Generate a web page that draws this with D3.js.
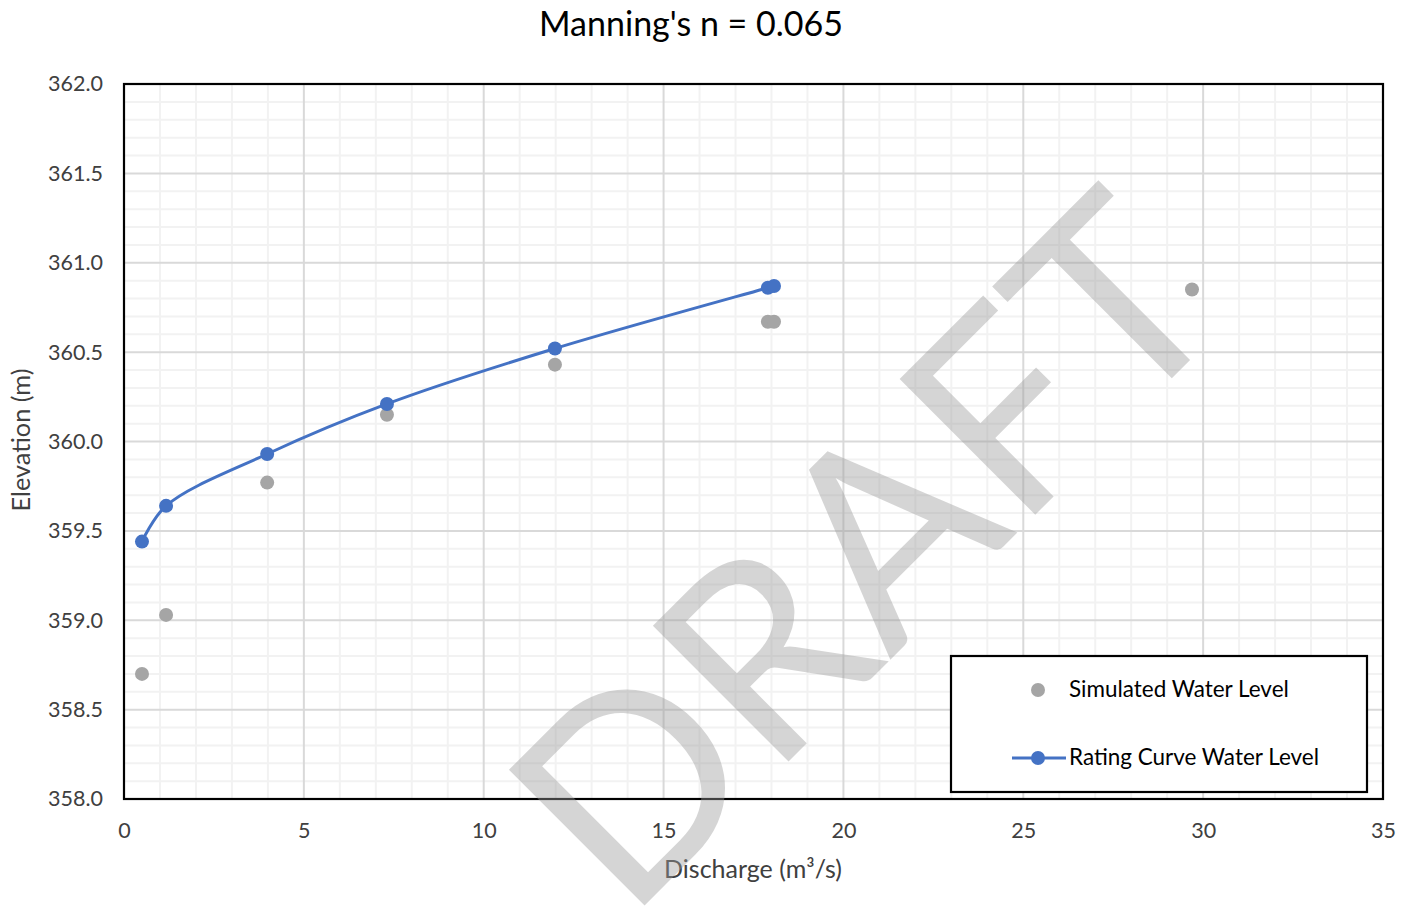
<!DOCTYPE html>
<html>
<head>
<meta charset="utf-8">
<script src="https://cdn.jsdelivr.net/npm/d3@7"></script>
<style>
  html, body { margin: 0; padding: 0; background: #fff; }
  svg { display: block; font-family: Lato, "Open Sans", sans-serif; }
</style>
</head>
<body>
<svg id="chart" width="1401" height="908"></svg>
<script>
// Rating curve points (discharge in m³/s, water level in m)
const ratingDischarge = [0.50, 1.17, 3.98, 7.31, 11.98, 17.90, 18.07];
const ratingLevel     = [359.44, 359.64, 359.93, 360.21, 360.52, 360.86, 360.87];

// Simulated water levels from the hydraulic model
const simDischarge = [0.50, 1.17, 3.98, 7.31, 11.98, 17.90, 18.07, 29.69];
const simLevel     = [358.70, 359.03, 359.77, 360.15, 360.43, 360.67, 360.67, 360.85];

// Axis ticks
const xTicks = [0, 5, 10, 15, 20, 25, 30, 35];
const yTicks = [358.0, 358.5, 359.0, 359.5, 360.0, 360.5, 361.0, 361.5, 362.0];

const titleText = "Manning's n = 0.065";
const xTitle = "Discharge (m³/s)";
const yTitle = "Elevation (m)";
const legendLabels = ["Simulated Water Level", "Rating Curve Water Level"];
const watermark = "DRAFT";

const svg = d3.select("#chart");
const plot = { left: 124, top: 84, right: 1383, bottom: 799 };

const x = d3.scaleLinear().domain([0, 35]).range([plot.left, plot.right]);
const y = d3.scaleLinear().domain([358, 362]).range([plot.bottom, plot.top]);

const blue = "#4472C4";
const grey = "#A5A5A5";

// size a text element so its rendered width equals the given width
function fitWidth(sel, width) {
  const base = 100;
  sel.attr("font-size", base);
  const w = sel.node().getComputedTextLength();
  sel.attr("font-size", base * width / w);
  return base * width / w;
}

// Gridlines: minor every 1 m³/s and 0.1 m, major every 5 m³/s and 0.5 m
const minorX = d3.range(1, 35, 1).filter(v => v % 5 !== 0);
const minorY = d3.range(1, 40, 1).filter(v => v % 5 !== 0).map(v => 358 + v / 10);
const majorX = d3.range(5, 35, 5);
const majorY = d3.range(1, 8).map(v => 358 + v * 0.5);

const grid = svg.append("g");
grid.selectAll(".mx").data(minorX).join("line")
  .attr("x1", d => x(d)).attr("x2", d => x(d))
  .attr("y1", plot.top).attr("y2", plot.bottom)
  .attr("stroke", "#f2f2f2").attr("stroke-width", 2);
grid.selectAll(".my").data(minorY).join("line")
  .attr("x1", plot.left).attr("x2", plot.right)
  .attr("y1", d => y(d)).attr("y2", d => y(d))
  .attr("stroke", "#f2f2f2").attr("stroke-width", 2);
grid.selectAll(".Mx").data(majorX).join("line")
  .attr("x1", d => x(d)).attr("x2", d => x(d))
  .attr("y1", plot.top).attr("y2", plot.bottom)
  .attr("stroke", "#d9d9d9").attr("stroke-width", 2);
grid.selectAll(".My").data(majorY).join("line")
  .attr("x1", plot.left).attr("x2", plot.right)
  .attr("y1", d => y(d)).attr("y2", d => y(d))
  .attr("stroke", "#d9d9d9").attr("stroke-width", 2);

// Plot border
svg.append("rect")
  .attr("x", plot.left).attr("y", plot.top)
  .attr("width", plot.right - plot.left).attr("height", plot.bottom - plot.top)
  .attr("fill", "none").attr("stroke", "#000").attr("stroke-width", 2.2);

// Axes (labels only; the border draws the axis lines)
const xAxis = svg.append("g")
  .attr("transform", `translate(0,${plot.bottom})`)
  .call(d3.axisBottom(x).tickValues(xTicks).tickFormat(d3.format("d")).tickSize(0).tickPadding(24));
const yAxis = svg.append("g")
  .attr("transform", `translate(${plot.left},0)`)
  .call(d3.axisLeft(y).tickValues(yTicks).tickFormat(d3.format(".1f")).tickSize(0).tickPadding(21));
[xAxis, yAxis].forEach(a => {
  a.select(".domain").remove();
  a.selectAll("text").attr("fill", "#404040").attr("font-size", 21.5)
    .attr("font-family", "Lato, 'Open Sans', sans-serif");
});

// Simulated water level markers
svg.append("g").selectAll("circle")
  .data(d3.zip(simDischarge, simLevel)).join("circle")
  .attr("cx", d => x(d[0])).attr("cy", d => y(d[1]))
  .attr("r", 7).attr("fill", grey);

// Smoothed rating curve
const ratingPts = d3.zip(ratingDischarge, ratingLevel);
svg.append("path")
  .datum(ratingPts)
  .attr("d", d3.line().x(d => x(d[0])).y(d => y(d[1])).curve(d3.curveCatmullRom.alpha(0.5)))
  .attr("fill", "none").attr("stroke", blue).attr("stroke-width", 3);
svg.append("g").selectAll("circle")
  .data(ratingPts).join("circle")
  .attr("cx", d => x(d[0])).attr("cy", d => y(d[1]))
  .attr("r", 7).attr("fill", blue);

// Title
const title = svg.append("text")
  .attr("x", 691).attr("y", 36).attr("text-anchor", "middle")
  .attr("fill", "#000").text(titleText);
fitWidth(title, 304);

// Axis titles
const xt = svg.append("text")
  .attr("x", 753).attr("y", 878).attr("text-anchor", "middle")
  .attr("fill", "#404040").text(xTitle);
fitWidth(xt, 178);
const yt = svg.append("text")
  .attr("transform", "translate(30,440) rotate(-90)").attr("text-anchor", "middle")
  .attr("fill", "#404040").text(yTitle);
fitWidth(yt, 143);

// Legend
const lg = svg.append("g");
lg.append("rect")
  .attr("x", 951).attr("y", 656).attr("width", 416).attr("height", 136)
  .attr("fill", "#fff").attr("stroke", "#000").attr("stroke-width", 2.2);
lg.append("circle").attr("cx", 1038).attr("cy", 690).attr("r", 7).attr("fill", grey);
lg.append("line").attr("x1", 1012).attr("x2", 1066).attr("y1", 758).attr("y2", 758)
  .attr("stroke", blue).attr("stroke-width", 3);
lg.append("circle").attr("cx", 1038).attr("cy", 758).attr("r", 7).attr("fill", blue);
const l1 = lg.append("text").attr("x", 1069).attr("y", 697).attr("fill", "#000").text(legendLabels[0]);
const fs = fitWidth(l1, 220);
lg.append("text").attr("x", 1069).attr("y", 765).attr("fill", "#000")
  .attr("font-size", fs).text(legendLabels[1]);

// Watermark across the plot
const wm = svg.append("text")
  .attr("text-anchor", "middle")
  .attr("transform", "translate(932,618) rotate(-45)")
  .attr("fill", "#9a9a9a").attr("fill-opacity", 0.42)
  .text(watermark);
fitWidth(wm, 862);
</script>
</body>
</html>
